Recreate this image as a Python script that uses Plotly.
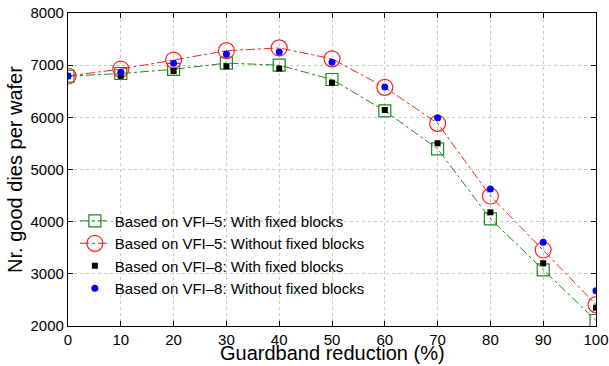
import plotly.graph_objects as go

x = [0, 10, 20, 30, 40, 50, 60, 70, 80, 90, 100]
vfi5_fixed = [6790, 6840, 6920, 7040, 7000, 6725, 6125, 5395, 4055, 3075, 2105]
vfi5_nofixed = [6792, 6925, 7098, 7278, 7330, 7122, 6575, 5885, 4492, 3457, 2410]
vfi8_fixed = [6790, 6795, 6888, 6978, 6935, 6664, 6141, 5503, 4180, 3202, 2351]
vfi8_nofixed = [6790, 6863, 7036, 7214, 7252, 7055, 6580, 5994, 4626, 3605, 2677]
yticks = [2000, 3000, 4000, 5000, 6000, 7000, 8000]

names = [
    "Based on VFI–5: With fixed blocks",
    "Based on VFI–5: Without fixed blocks",
    "Based on VFI–8: With fixed blocks",
    "Based on VFI–8: Without fixed blocks",
]
x_title = "Guardband reduction (%)"
y_title = "Nr. good dies per wafer"

fig = go.Figure()
fig.add_trace(go.Scatter(x=x, y=vfi5_fixed, name=names[0], mode="lines+markers",
                         line=dict(color="#1a8a1a", width=1, dash="dashdot"),
                         marker=dict(symbol="square-open", size=12, color="#1a8a1a", line=dict(width=1.2))))
fig.add_trace(go.Scatter(x=x, y=vfi5_nofixed, name=names[1], mode="lines+markers",
                         line=dict(color="#ff2020", width=1, dash="dashdot"),
                         marker=dict(symbol="circle-open", size=16, color="#ff2020", line=dict(width=1.2))))
fig.add_trace(go.Scatter(x=x, y=vfi8_fixed, name=names[2], mode="markers",
                         marker=dict(symbol="square", size=6, color="black")))
fig.add_trace(go.Scatter(x=x, y=vfi8_nofixed, name=names[3], mode="markers",
                         marker=dict(symbol="circle", size=7, color="#0000ff")))

axis_common = dict(showline=True, linecolor="black", linewidth=1.2, mirror="ticks",
                   ticks="inside", ticklen=5, tickcolor="black",
                   showgrid=True, gridcolor="#c8c8c8", griddash="dot", gridwidth=1,
                   zeroline=False, automargin=False, tickfont=dict(size=15, color="black"))

fig.update_layout(
    width=609, height=366,
    margin=dict(l=68, r=13, t=13, b=40),
    paper_bgcolor="white", plot_bgcolor="white",
    font=dict(family="Liberation Sans, Arial, sans-serif", color="black"),
    xaxis=dict(range=[0, 100], tickvals=x, **axis_common),
    yaxis=dict(range=[2000, 8000], tickvals=yticks,
               title=dict(text=y_title, font=dict(size=20), standoff=2), **axis_common),
    legend=dict(x=0.013, y=0.388, xanchor="left", yanchor="top", bgcolor="rgba(255,255,255,0)",
                font=dict(size=15), tracegroupgap=0, itemwidth=30),
    showlegend=True,
    annotations=[dict(text=x_title, xref="paper", yref="paper", x=0.5, y=-0.128,
                      xanchor="center", yanchor="bottom", showarrow=False,
                      font=dict(size=20, color="black"))],
)

fig.write_html("out.html", config={"displayModeBar": False},
               post_script="document.body.style.margin='0';document.body.style.padding='0';")
